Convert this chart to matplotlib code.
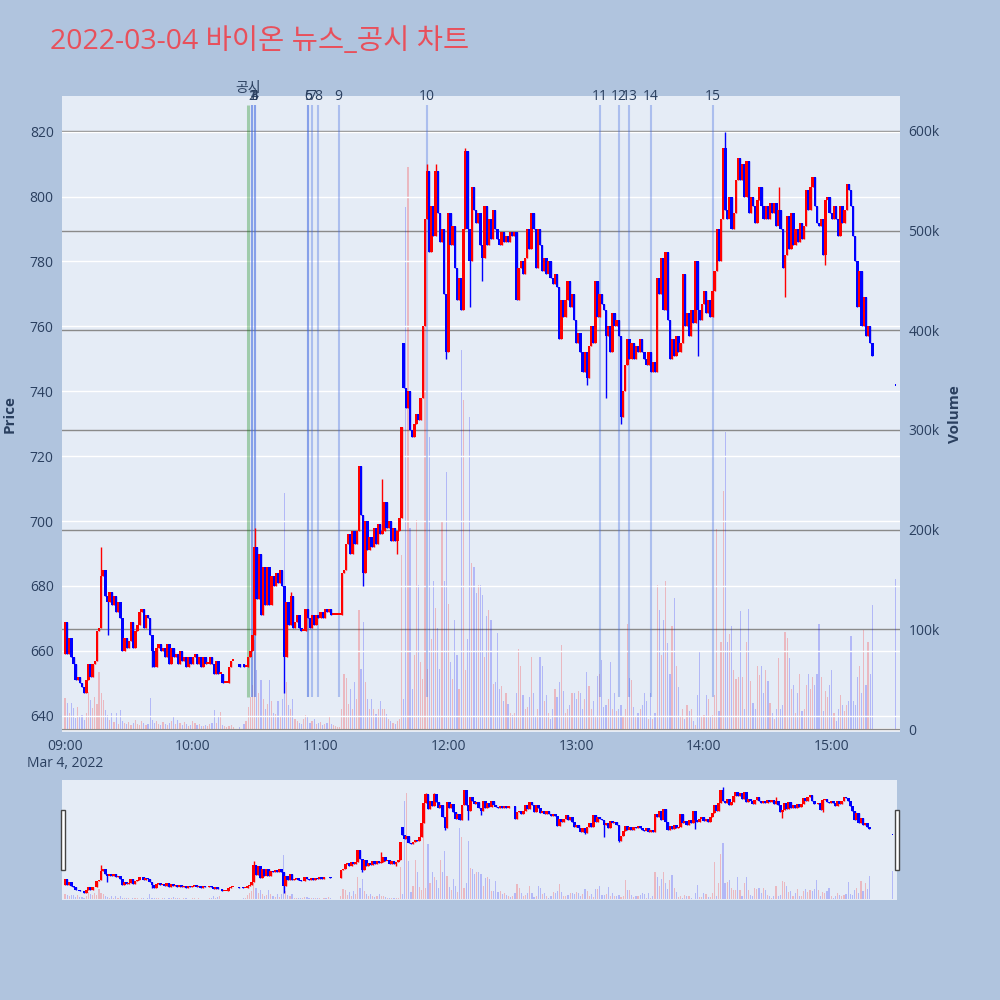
import numpy as np
import pandas as pd
import matplotlib
matplotlib.use("Agg")
import matplotlib.pyplot as plt
import matplotlib.dates as mdates
from matplotlib.patches import Rectangle

plt.rcParams['font.family'] = ['Open Sans', 'Noto Sans CJK KR', 'DejaVu Sans']

nan = np.nan

# 1-minute closes from 09:00
close = [
    669, 659, 664, 658, 656, 651, 652, 650, 649, 647,
    651, 656, 652, 656, 657, 666, 667, 683, 685, 677,
    675, 678, 674, 677, 672, 675, 670, 660, 664, 661,
    663, 669, 661, 666, 668, 672, 673, 667, 671, 670,
    665, 660, 655, 661, 662, 660, 661, 658, 662, 656,
    661, 658, 659, 656, 660, 657, 658, 655, 658, 656,
    658, 659, 656, 658, 655, 658, 656, 656, 658, 656,
    653, 657, 653, 653, 650, 650, 650, 655, 657, 657,
    nan, nan, 655, nan, 655, 655, 658, 660, 665, 692,
    676, 690, 671, 686, 674, 686, 674, 683, 680, 684,
    681, 685, 680, 658, 675, 668, 677, 667, 669, 671,
    667, 666, 666, 673, 670, 667, 671, 668, 671, 670,
    672, 670, 673, 672, 673, 671, 671, 671, 671, 671,
    684, 685, 693, 696, 690, 697, 693, 697, 717, 702,
    684, 700, 691, 695, 692, 698, 693, 699, 696, 697,
    706, 698, 700, 694, 698, 694, 697, 701, 729, 741,
    735, 740, 728, 726, 730, 733, 731, 738, 760, 793,
    808, 783, 797, 788, 808, 795, 786, 790, 770, 752,
    795, 785, 791, 778, 768, 775, 765, 790, 814, 790,
    780, 803, 796, 792, 795, 785, 781, 797, 785, 793,
    787, 796, 790, 787, 785, 789, 786, 788, 786, 789,
    788, 789, 768, 778, 780, 776, 781, 790, 784, 795,
    790, 778, 790, 785, 777, 781, 776, 780, 775, 773,
    776, 772, 756, 768, 763, 768, 774, 766, 770, 762,
    755, 758, 752, 746, 752, 744, 754, 760, 755, 774,
    763, 770, 767, 765, 757, 760, 752, 764, 760, 762,
    757, 732, 740, 748, 756, 750, 755, 750, 754, 752,
    756, 752, 750, 748, 752, 746, 749, 746, 775, 770,
    781, 765, 783, 762, 750, 756, 751, 757, 752, 755,
    776, 760, 764, 757, 765, 761, 780, 765, 762, 767,
    771, 764, 768, 763, 771, 777, 790, 780, 793, 815,
    796, 793, 800, 790, 795, 805, 812, 805, 810, 800,
    811, 795, 800, 797, 792, 799, 803, 797, 793, 797,
    793, 798, 795, 798, 791, 796, 790, 778, 782, 794,
    784, 795, 785, 790, 786, 792, 787, 791, 802, 796,
    803, 806, 797, 792, 791, 793, 782, 799, 800, 795,
    793, 797, 793, 788, 797, 792, 796, 804, 802, 797,
    788, 780, 766, 777, 760, 769, 757, 760, 755, 751,
]

# volume in thousands, same minutes
volume_k = [
    31, 26, 16, 26, 21, 11, 22, 12, 14, 9,
    16, 37, 29, 21, 32, 25, 57, 36, 29, 19,
    14, 9, 16, 7, 16, 5, 19, 8, 6, 5,
    7, 4, 6, 9, 5, 4, 8, 6, 4, 5,
    31, 9, 6, 8, 5, 4, 7, 5, 4, 6,
    8, 12, 5, 9, 6, 4, 7, 5, 3, 4,
    8, 6, 4, 5, 3, 3, 4, 3, 5, 6,
    19, 6, 12, 17, 4, 3, 2, 3, 4, 2,
    0, 0, 2, 0, 5, 8, 22, 32, 44, 89,
    59, 36, 49, 30, 20, 25, 49, 28, 16, 15,
    28, 12, 30, 237, 47, 24, 20, 30, 10, 8,
    6, 5, 10, 14, 12, 6, 8, 10, 5, 6,
    7, 4, 5, 6, 12, 5, 4, 3, 2, 2,
    20, 55, 51, 25, 40, 20, 47, 30, 119, 60,
    107, 47, 30, 20, 30, 20, 15, 20, 28, 20,
    20, 15, 10, 8, 6, 5, 8, 10, 175, 30,
    524, 564, 202, 40, 74, 210, 144, 67, 50, 512,
    60, 293, 90, 148, 121, 101, 60, 208, 148, 258,
    125, 67, 50, 109, 74, 40, 380, 330, 59, 90,
    313, 167, 163, 136, 144, 144, 134, 72, 113, 119,
    109, 45, 47, 96, 40, 43, 28, 36, 25, 16,
    14, 16, 36, 80, 63, 34, 20, 22, 32, 72,
    36, 12, 20, 72, 63, 28, 34, 16, 10, 20,
    40, 32, 47, 84, 38, 16, 20, 24, 36, 36,
    30, 38, 36, 20, 30, 57, 43, 20, 28, 12,
    53, 55, 69, 22, 24, 30, 67, 20, 36, 18,
    20, 24, 12, 20, 105, 51, 49, 22, 12, 16,
    20, 24, 36, 28, 10, 36, 10, 16, 144, 119,
    74, 109, 148, 86, 55, 103, 131, 63, 42, 12,
    20, 10, 24, 18, 20, 8, 4, 34, 77, 12,
    14, 34, 30, 12, 14, 34, 201, 18, 87, 239,
    298, 87, 95, 103, 59, 50, 52, 118, 52, 20,
    87, 120, 48, 26, 20, 63, 54, 63, 36, 59,
    48, 26, 16, 10, 20, 71, 20, 24, 97, 91,
    71, 40, 44, 16, 36, 55, 18, 20, 44, 55,
    40, 52, 44, 55, 105, 52, 18, 38, 32, 44,
    59, 16, 8, 20, 34, 24, 18, 24, 28, 93,
    28, 24, 52, 63, 36, 99, 44, 87, 55, 124,
]

first_open = 659
open_override = {82: 656, 84: 656, 159: 755}
wick_high = {17: 692, 89: 698, 106: 678, 149: 713, 170: 810, 174: 810,
             188: 815, 197: 797, 219: 795, 310: 820, 335: 803}
wick_low = {20: 665, 41: 655, 103: 647, 140: 680, 156: 690, 179: 750,
            190: 766, 196: 774, 245: 742, 254: 738, 261: 730, 297: 751,
            338: 769, 357: 779}

# closing auction
auction_time = "2022-03-04 15:30"
auction_price = 742
auction_volume_k = 150

news_labels = [str(i) for i in range(1, 16)]
news_times = ["10:28", "10:28", "10:29", "10:29", "10:54", "10:54", "10:56",
              "10:59", "11:08:30", "11:50", "13:11", "13:20", "13:25",
              "13:35", "14:04"]
notice_time = "10:26"

title = "2022-03-04 바이온 뉴스_공시 차트"
text_col = "#2a3f5f"

# ---- build ohlc ----
times = pd.date_range("2022-03-04 09:00", periods=len(close), freq="min")
c = np.array(close, dtype=float)
o = np.empty_like(c)
prev = first_open
for i, v in enumerate(c):
    o[i] = open_override.get(i, prev)
    if not np.isnan(v):
        prev = v
h = np.fmax(o, c)
l = np.fmin(o, c)
for k, v in wick_high.items():
    h[k] = v
for k, v in wick_low.items():
    l[k] = v
ok = ~np.isnan(c)
up = c >= o
cols = np.where(up, "#ff0000", "#0000ff")
vol = np.array(volume_k, dtype=float) * 1000

t_ok = times[ok]
body_lo = np.fmin(o, c)[ok]
body_h = np.maximum(np.abs(c - o)[ok], 0.6)

xmin = pd.Timestamp("2022-03-04 08:58:36")
xmax = pd.Timestamp("2022-03-04 15:32:00")
pmin, pmax = 635, 831
vmin, vmax = -3000, 635000
minute = 1 / 1440

fig = plt.figure(figsize=(10, 10), dpi=100, facecolor="#B0C4DE")


def draw(axp, axv, body_w, vol_w):
    axv.bar(t_ok, vol[ok], width=vol_w, color=cols[ok], alpha=0.22,
            linewidth=0, zorder=2)
    axv.bar(pd.Timestamp(auction_time), auction_volume_k * 1000, width=vol_w,
            color="#0000ff", alpha=0.22, linewidth=0, zorder=2)
    axp.vlines(t_ok, l[ok], h[ok], colors=cols[ok], linewidth=1, zorder=4)
    axp.bar(t_ok, body_h, bottom=body_lo, width=body_w, color=cols[ok],
            linewidth=0, zorder=4)
    axp.bar(pd.Timestamp(auction_time), 0.6, bottom=auction_price - 0.3,
            width=body_w * 0.5, color="#0000ff", linewidth=0, zorder=4)
    for a in (axp, axv):
        a.set_xlim(xmin, xmax)
        for s in a.spines.values():
            s.set_visible(False)
    axp.set_ylim(pmin, pmax)
    axv.set_ylim(vmin, vmax)
    axv.set_zorder(1)
    axp.set_zorder(2)
    axp.patch.set_visible(False)
    axv.set_facecolor("#E5ECF6")


# ---- main chart ----
ax_v = fig.add_axes([0.062, 0.268, 0.838, 0.636])
ax = ax_v.twinx()
draw(ax, ax_v, 1.15 * minute, 0.55 * minute)

# volume axis on the right, price on the left
ax_v.yaxis.tick_right()
ax.yaxis.tick_left()
ax_v.set_yticks(range(0, 600001, 100000))
ax_v.set_yticklabels(["0"] + [f"{v}k" for v in range(100, 601, 100)])
ax_v.grid(axis="y", color="#8a8a8a", linewidth=1)
ax_v.axhline(0, color="white", linewidth=2, zorder=1.5)
ax_v.tick_params(axis="y", length=0, pad=6, labelsize=10, colors=text_col)
ax.set_yticks(range(640, 821, 20))
ax.tick_params(axis="y", length=0, pad=6, labelsize=10, colors=text_col)
ax.grid(axis="y", color="white", linewidth=1)
ax.set_axisbelow(True)

ax_v.xaxis.set_major_locator(mdates.HourLocator())
ax_v.xaxis.set_major_formatter(mdates.DateFormatter("%H:%M"))
ax_v.tick_params(axis="x", length=0, pad=5, labelsize=10, colors=text_col)
ax.tick_params(axis="x", length=0, labelbottom=False)
fig.canvas.draw()
labels = [t.get_text() for t in ax_v.get_xticklabels()]
labels[0] = labels[0] + "\nMar 4, 2022"
ax_v.set_xticks(ax_v.get_xticks())
ax_v.set_xticklabels(labels, linespacing=1.15, va="top")

# news / notice lines
day = "2022-03-04 "
ax.vlines(pd.Timestamp(day + notice_time), 645.8, 828.3, color="green",
          alpha=0.3, linewidth=2.2, zorder=3)
ax.text(pd.Timestamp(day + notice_time), 1.0, "공시", transform=ax.get_xaxis_transform(),
        ha="center", va="bottom", fontsize=10, color=text_col)
for lab, t in zip(news_labels, news_times):
    tt = pd.Timestamp(day + t)
    ax.vlines(tt, 645.8, 828.3, color="royalblue", alpha=0.35,
              linewidth=1.5, zorder=3)
    ax.text(tt, 1.0, lab, transform=ax.get_xaxis_transform(), ha="center",
            va="center", fontsize=10, color=text_col)

fig.text(0.05, 0.958, title, fontsize=20.5, color="#e8505b", va="center", ha="left")
fig.text(0.01, 0.586, "Price", rotation=90, fontsize=11, fontweight="bold",
         color=text_col, ha="center", va="center")
fig.text(0.955, 0.586, "Volume", rotation=90, fontsize=11, fontweight="bold",
         color=text_col, ha="center", va="center")

# ---- range slider ----
rs_v = fig.add_axes([0.062, 0.10, 0.835, 0.12])
rs = rs_v.twinx()
draw(rs, rs_v, 1.3 * minute, 0.55 * minute)
for a in (rs, rs_v):
    a.set_xticks([])
    a.set_yticks([])
for xh in (0.0625, 0.8965):
    fig.patches.append(Rectangle((xh - 0.002, 0.13), 0.004, 0.06,
                                 transform=fig.transFigure, facecolor="white",
                                 edgecolor="#444444", linewidth=1, zorder=10))

fig.savefig("out.png", dpi=100, facecolor=fig.get_facecolor())
